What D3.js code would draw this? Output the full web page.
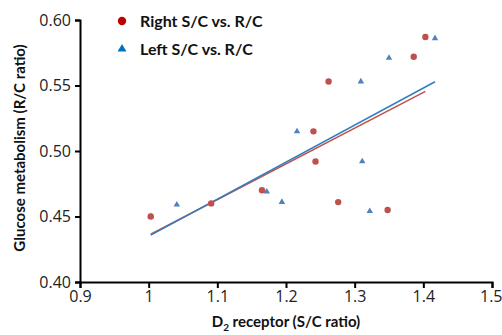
<!DOCTYPE html>
<html>
<head>
<meta charset="utf-8">
<script src="https://cdn.jsdelivr.net/npm/d3@7"></script>
<style>
  body { margin: 0; background: #fff; }
  svg { display: block; }
</style>
</head>
<body>
<svg id="chart"></svg>
<script>
// Right striatum / cerebellum vs. R/C glucose ratio
const rightX = [1.003, 1.091, 1.165, 1.240, 1.243, 1.262, 1.276, 1.348, 1.386, 1.403];
const rightY = [0.450, 0.460, 0.470, 0.515, 0.492, 0.553, 0.461, 0.455, 0.572, 0.587];
// Left striatum / cerebellum vs. R/C glucose ratio
const leftX = [1.003, 1.041, 1.172, 1.194, 1.216, 1.309, 1.311, 1.322, 1.350, 1.417];
const leftY = [0.450, 0.459, 0.469, 0.461, 0.515, 0.553, 0.492, 0.454, 0.571, 0.586];

const xTicks = [0.9, 1, 1.1, 1.2, 1.3, 1.4, 1.5];
const yTicks = [0.40, 0.45, 0.50, 0.55, 0.60];
const legendLabels = ["Right S/C vs. R/C", "Left S/C vs. R/C"];

const W = 502, H = 335;
const margin = { top: 20, right: 10, bottom: 53, left: 80 };
const width = W - margin.left - margin.right;
const height = H - margin.top - margin.bottom;

const svg = d3.select("#chart").attr("width", W).attr("height", H);
const g = svg.append("g").attr("transform", `translate(${margin.left},${margin.top})`);

const x = d3.scaleLinear().domain([0.9, 1.5]).range([0, width]);
const y = d3.scaleLinear().domain([0.40, 0.60]).range([height, 0]);

// least squares fit over the range of each series
function fit(xs, ys) {
    const mx = d3.mean(xs), my = d3.mean(ys);
    const sxy = d3.sum(xs, (v, i) => (v - mx) * (ys[i] - my));
    const sxx = d3.sum(xs, v => (v - mx) * (v - mx));
    const b = sxy / sxx, a = my - b * mx;
    const x0 = d3.min(xs), x1 = d3.max(xs);
    return [[x0, a + b * x0], [x1, a + b * x1]];
}

const tickFont = "'Open Sans', sans-serif";
const titleFont = "Lato, 'Open Sans', sans-serif";

// axes
const xAxis = g.append("g")
    .attr("transform", `translate(0,${height})`)
    .call(d3.axisBottom(x).tickValues(xTicks).tickFormat(d3.format("")).tickSizeOuter(6).tickSize(6).tickPadding(3));
const yAxis = g.append("g")
    .call(d3.axisLeft(y).tickValues(yTicks).tickFormat(d3.format(".2f")).tickSize(5).tickSizeOuter(5).tickPadding(4));

[xAxis, yAxis].forEach(ax => {
    ax.select(".domain").attr("stroke", "#000").attr("stroke-width", 2);
    ax.selectAll(".tick line").attr("stroke", "#000").attr("stroke-width", 2);
    ax.selectAll(".tick text")
        .attr("fill", "#222")
        .style("font-family", tickFont)
        .style("font-size", "16px");
});
// last x label is pulled in so it stays inside the picture
xAxis.selectAll(".tick text")
    .filter(d => d === 1.5)
    .attr("text-anchor", "end")
    .attr("dx", 10);

// trend lines
const line = d3.line().x(d => x(d[0])).y(d => y(d[1]));
g.append("path").datum(fit(rightX, rightY))
    .attr("d", line).attr("fill", "none")
    .attr("stroke", "#C0504D").attr("stroke-width", 1.5);
g.append("path").datum(fit(leftX, leftY))
    .attr("d", line).attr("fill", "none")
    .attr("stroke", "#2E7FC0").attr("stroke-width", 1.5);

// points: triangles first, circles on top
const tri = d3.symbol().type(d3.symbolTriangle).size(18);
g.selectAll(".left-pt")
    .data(leftX.map((v, i) => [v, leftY[i]]))
    .join("path")
    .attr("class", "left-pt")
    .attr("d", tri)
    .attr("transform", d => `translate(${x(d[0])},${y(d[1])})`)
    .attr("fill", "#4F81BD");

g.selectAll(".right-pt")
    .data(rightX.map((v, i) => [v, rightY[i]]))
    .join("circle")
    .attr("class", "right-pt")
    .attr("cx", d => x(d[0]))
    .attr("cy", d => y(d[1]))
    .attr("r", 3.2)
    .attr("fill", "#C0504D");

// legend
const legend = svg.append("g").attr("transform", "translate(122,21)");
legend.append("circle").attr("cx", 0).attr("cy", 0).attr("r", 4.2).attr("fill", "#C00000");
legend.append("path")
    .attr("d", d3.symbol().type(d3.symbolTriangle).size(34)())
    .attr("transform", "translate(0,28)")
    .attr("fill", "#0070C0");
legend.selectAll("text")
    .data(legendLabels)
    .join("text")
    .attr("x", 18)
    .attr("y", (d, i) => 6 + i * 28)
    .style("font-family", titleFont)
    .style("font-weight", "bold")
    .style("font-size", "16px")
    .attr("fill", "#111")
    .text(d => d);

// axis titles
const xTitle = svg.append("text")
    .attr("x", margin.left + x(1.2))
    .attr("y", 327)
    .attr("text-anchor", "middle")
    .style("font-family", titleFont)
    .style("font-weight", "bold")
    .style("font-size", "15px")
    .attr("fill", "#111");
xTitle.append("tspan").text("D");
xTitle.append("tspan").attr("dy", 4).style("font-size", "10px").text("2");
xTitle.append("tspan").attr("dy", -4).text(" receptor (S/C ratio)");

svg.append("text")
    .attr("transform", `translate(25,${margin.top + height / 2 - 3}) rotate(-90)`)
    .attr("text-anchor", "middle")
    .style("font-family", titleFont)
    .style("font-weight", "bold")
    .style("font-size", "15px")
    .attr("fill", "#111")
    .text("Glucose metabolism (R/C ratio)");
</script>
</body>
</html>
